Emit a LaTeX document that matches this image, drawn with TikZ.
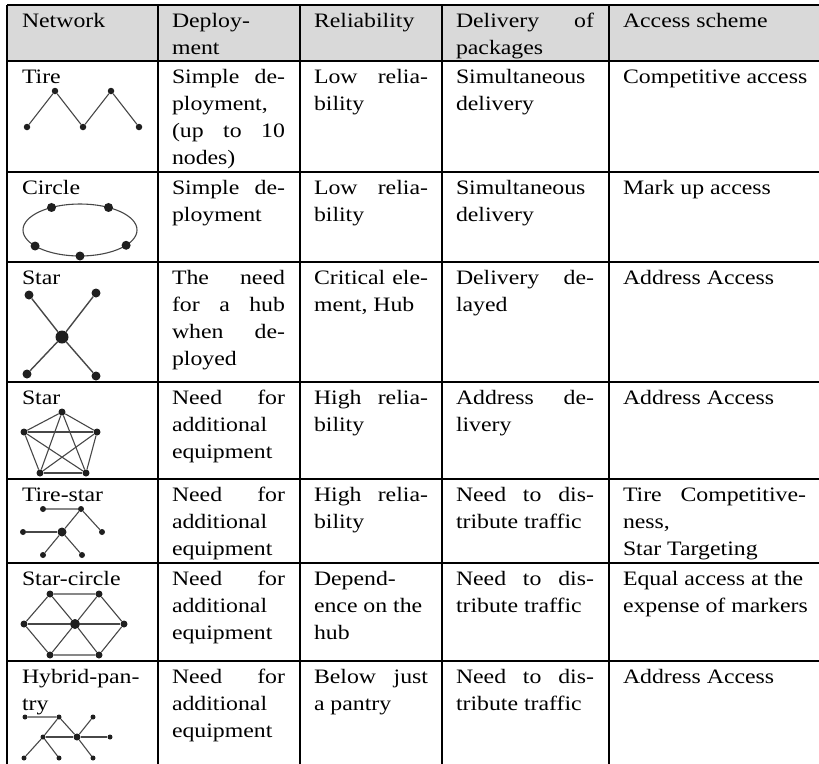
\documentclass[tikz,border=0pt]{standalone}
\usepackage{fontspec}
\setmainfont{Liberation Serif}[FakeStretch=1.16]
\usetikzlibrary{calc}
\newcommand\J[1]{\makebox[\linewidth][s]{#1}}
\newcommand\cellbox[2]{\parbox[t]{#1pt}{\raggedright #2}}
\begin{document}
\begin{tikzpicture}[x=1pt,y=-1pt,
  rule/.style={line width=1.8pt, black},
  cell/.style={anchor=base west, inner sep=0pt, outer sep=0pt,
    font=\fontsize{20.5}{27.3}\selectfont},
  link/.style={line width=1.1pt, black!72},
  vtx/.style={circle, fill=black!88, inner sep=0pt, minimum size=#1},
  vtx/.default=7pt]
\useasboundingbox (0,0) rectangle (819,763);
\clip (0,0) rectangle (819,763);

% header background
\fill[black!15] (7,5) rectangle (830,61);

% grid
\foreach \y in {5,61,172,262,382,479,563,661}
  \draw[rule] (7,\y) -- (830,\y);
\foreach \x in {7,158,300,442,609}
  \draw[rule] (\x,5) -- (\x,770);

% ---------- header ----------
\node[cell] (h1) at (22,27) {Network};
\node[cell] (h2) at (172,27) {\cellbox{113}{Deploy-\\ment}};
\node[cell] (h3) at (314,27) {Reliability};
\node[cell] (h4) at (456,27) {\cellbox{138}{\J{Delivery of}\\packages}};
\node[cell] (h5) at (623,27) {Access scheme};

% ---------- Tire ----------
\node[cell] (r1a) at (22,83) {Tire};
\node[cell] (r1b) at (172,83) {\cellbox{113}{\J{Simple de-}\\ployment,\\\J{(up to 10}\\nodes)}};
\node[cell] (r1c) at (314,83) {\cellbox{114}{\J{Low relia-}\\bility}};
\node[cell] (r1d) at (456,83) {\cellbox{138}{Simultaneous\\delivery}};
\node[cell] (r1e) at (623,83) {Competitive access};
\node[vtx=6.5pt] (t1) at (27,127) {};
\node[vtx=6.5pt] (t2) at (55,91) {};
\node[vtx=6.5pt] (t3) at (83,127) {};
\node[vtx=6.5pt] (t4) at (111,91) {};
\node[vtx=6.5pt] (t5) at (139,127) {};
\draw[link] (t1) -- (t2) -- (t3) -- (t4) -- (t5);

% ---------- Circle ----------
\node[cell] (r2a) at (22,194) {Circle};
\node[cell] (r2b) at (172,194) {\cellbox{113}{\J{Simple de-}\\ployment}};
\node[cell] (r2c) at (314,194) {\cellbox{114}{\J{Low relia-}\\bility}};
\node[cell] (r2d) at (456,194) {\cellbox{138}{Simultaneous\\delivery}};
\node[cell] (r2e) at (623,194) {Mark up access};
\coordinate (ring) at (80,230);
\draw[link] (ring) ellipse [x radius=57, y radius=26];
\foreach \a/\n in {90/c1,142/c2,36/c3,240/c4,300/c5}
  \node[vtx=9pt] (\n) at ($(ring)+(\a:57 and 26)$) {};

% ---------- Star ----------
\node[cell] (r3a) at (22,284) {Star};
\node[cell] (r3b) at (172,284) {\cellbox{113}{\J{The need}\\\J{for a hub}\\\J{when de-}\\ployed}};
\node[cell] (r3c) at (314,284) {\cellbox{114}{\J{Critical ele-}\\ment, Hub}};
\node[cell] (r3d) at (456,284) {\cellbox{138}{\J{Delivery de-}\\layed}};
\node[cell] (r3e) at (623,284) {Address Access};
\node[vtx=13pt] (s0) at (62,337) {};
\node[vtx=9pt] (s1) at (29,295) {};
\node[vtx=9pt] (s2) at (96,293) {};
\node[vtx=9pt] (s3) at (27,374) {};
\node[vtx=9pt] (s4) at (96,376) {};
\draw[link, line width=1.4pt] (s1) -- (s0) -- (s4);
\draw[link, line width=1.4pt] (s2) -- (s0) -- (s3);

% ---------- Star (full mesh) ----------
\node[cell] (r4a) at (22,404) {Star};
\node[cell] (r4b) at (172,404) {\cellbox{113}{\J{Need for}\\additional\\equipment}};
\node[cell] (r4c) at (314,404) {\cellbox{114}{\J{High relia-}\\bility}};
\node[cell] (r4d) at (456,404) {\cellbox{138}{\J{Address de-}\\livery}};
\node[cell] (r4e) at (623,404) {Address Access};
\node[vtx] (p1) at (62,412) {};
\node[vtx] (p2) at (24,432) {};
\node[vtx] (p3) at (97,432) {};
\node[vtx] (p4) at (40,473) {};
\node[vtx] (p5) at (86,473) {};
\foreach \u/\v in {p1/p2,p1/p3,p1/p4,p1/p5,p2/p3,p2/p4,p2/p5,p3/p4,p3/p5,p4/p5}
  \draw[link] (\u) -- (\v);

% ---------- Tire-star ----------
\node[cell] (r5a) at (22,501) {Tire-star};
\node[cell] (r5b) at (172,501) {\cellbox{113}{\J{Need for}\\additional\\equipment}};
\node[cell] (r5c) at (314,501) {\cellbox{114}{\J{High relia-}\\bility}};
\node[cell] (r5d) at (456,501) {\cellbox{138}{\J{Need to dis-}\\tribute traffic}};
\node[cell] (r5e) at (623,501) {\cellbox{183}{\J{Tire Competitive-}\\ness,\\Star Targeting}};
\node[vtx=6pt] (q1) at (43,509) {};
\node[vtx=6pt] (q2) at (81,509) {};
\node[vtx=6pt] (q3) at (23,532) {};
\node[vtx=9pt] (q4) at (62,532) {};
\node[vtx=6pt] (q5) at (102,532) {};
\node[vtx=6pt] (q6) at (43,555) {};
\node[vtx=6pt] (q7) at (82,555) {};
\draw[link] (q1) -- (q2) -- (q4);
\draw[link] (q2) -- (q5);
\draw[link] (q3) -- (q4);
\draw[link] (q6) -- (q4) -- (q7);

% ---------- Star-circle ----------
\node[cell] (r6a) at (22,585) {Star-circle};
\node[cell] (r6b) at (172,585) {\cellbox{113}{\J{Need for}\\additional\\equipment}};
\node[cell] (r6c) at (314,585) {\cellbox{114}{Depend-\\ence on the\\hub}};
\node[cell] (r6d) at (456,585) {\cellbox{138}{\J{Need to dis-}\\tribute traffic}};
\node[cell] (r6e) at (623,585) {\cellbox{190}{Equal access at the\\expense of markers}};
\node[vtx] (x1) at (50,594) {};
\node[vtx] (x2) at (99,594) {};
\node[vtx] (x3) at (24,624) {};
\node[vtx=10pt] (x0) at (75,624) {};
\node[vtx] (x4) at (124,624) {};
\node[vtx] (x5) at (50,655) {};
\node[vtx] (x6) at (99,655) {};
\draw[link] (x1) -- (x2) -- (x4) -- (x6) -- (x5) -- (x3) -- (x1);
\foreach \v in {x1,x2,x3,x4,x5,x6}
  \draw[link] (x0) -- (\v);

% ---------- Hybrid-pantry ----------
\node[cell] (r7a) at (22,683) {\cellbox{130}{Hybrid-pan-\\try}};
\node[cell] (r7b) at (172,683) {\cellbox{113}{\J{Need for}\\additional\\equipment}};
\node[cell] (r7c) at (314,683) {\cellbox{114}{\J{Below just}\\a pantry}};
\node[cell] (r7d) at (456,683) {\cellbox{138}{\J{Need to dis-}\\tribute traffic}};
\node[cell] (r7e) at (623,683) {Address Access};
\node[vtx=5pt] (y1) at (25,717) {};
\node[vtx=5pt] (y2) at (59,717) {};
\node[vtx=5pt] (y3) at (93,717) {};
\node[vtx=5pt] (y4) at (43,737) {};
\node[vtx=7pt] (y5) at (77,737) {};
\node[vtx=5pt] (y6) at (110,737) {};
\node[vtx=5pt] (y7) at (24,758) {};
\node[vtx=5pt] (y8) at (59,758) {};
\node[vtx=5pt] (y9) at (93,758) {};
\draw[link] (y1) -- (y2) -- (y4);
\draw[link] (y2) -- (y5);
\draw[link] (y3) -- (y5);
\draw[link] (y4) -- (y5) -- (y6);
\draw[link] (y4) -- (y7);
\draw[link] (y4) -- (y8);
\draw[link] (y5) -- (y9);
\end{tikzpicture}
\end{document}
